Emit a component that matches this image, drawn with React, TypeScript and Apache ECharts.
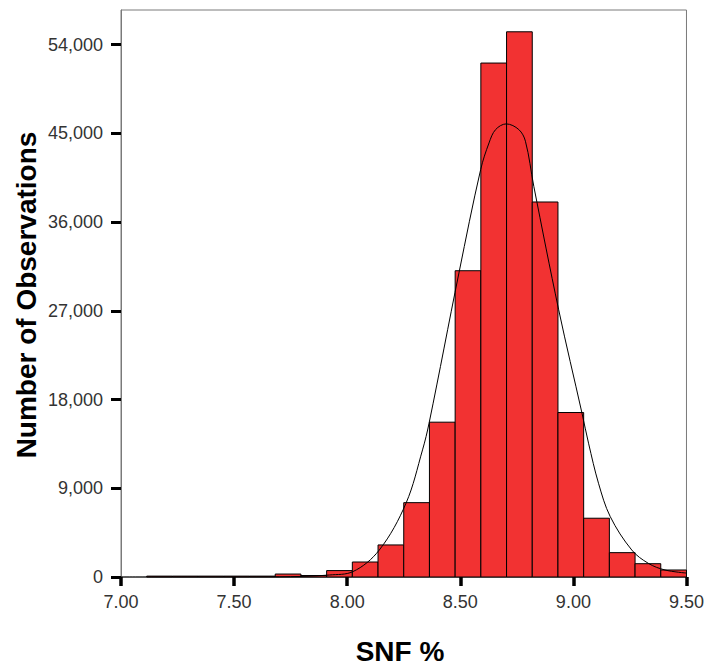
import React, { useEffect, useRef } from "react";
import * as echarts from "echarts";

// Histogram: 22 equal bins between HIST_MIN and HIST_MAX
const HIST_MIN = 7.0;
const HIST_MAX = 9.5;
const binCounts = [
  0, 90, 90, 90, 90, 90, 300, 150, 650, 1520, 3250, 7540, 15700, 31060, 52120,
  55290, 38030, 16680, 5960, 2470, 1350, 710,
];

// Fitted normal curve: [SNF %, observations]
const curveX = [
  7.0, 7.6, 7.8, 7.922, 8.0245, 8.142, 8.26, 8.333, 8.362, 8.494, 8.59, 8.627,
  8.656, 8.703, 8.759, 8.788, 8.825, 8.935, 9.038, 9.067, 9.111, 9.163, 9.258,
  9.331, 9.405, 9.5,
];
const curveY = [
  0, 10, 60, 203, 538, 2740, 7480, 12890, 15600, 30830, 41310, 44020, 45370,
  45950, 45370, 44190, 39620, 27100, 16620, 13570, 9510, 6120, 2740, 1390, 710,
  400,
];

const xTicks = [7.0, 7.5, 8.0, 8.5, 9.0, 9.5];
const yTicks = [0, 9000, 18000, 27000, 36000, 45000, 54000];
const Y_MAX = 57500;

const FONT = "'Liberation Sans', Arial, Helvetica, sans-serif";

export default function App() {
  const ref = useRef<HTMLDivElement>(null);

  useEffect(() => {
    if (!ref.current) return;
    const chart = echarts.init(ref.current, undefined, { renderer: "svg" });
    const w = (HIST_MAX - HIST_MIN) / binCounts.length;
    const histData = binCounts
      .map((c, k) => [HIST_MIN + k * w, HIST_MIN + (k + 1) * w, c])
      .filter((d) => d[2] > 0);
    const lineData = curveX.map((x, i) => [x, curveY[i]]);

    chart.setOption({
      animation: false,
      backgroundColor: "#ffffff",
      grid: {
        left: 121,
        right: 18.5,
        top: 10,
        bottom: 90,
        show: true,
        borderColor: "#7a7a7a",
        borderWidth: 1,
        backgroundColor: "transparent",
      },
      xAxis: {
        type: "value",
        min: HIST_MIN,
        max: HIST_MAX,
        interval: 0.5,
        splitLine: { show: false },
        axisLine: { show: true, lineStyle: { color: "#7a7a7a", width: 1 } },
        axisTick: {
          show: true,
          length: 9,
          lineStyle: { color: "#000", width: 3.5 },
          customValues: xTicks,
        },
        axisLabel: {
          customValues: xTicks,
          margin: 16,
          color: "#333",
          fontSize: 18,
          fontFamily: FONT,
          formatter: (v: number) => v.toFixed(2),
        },
      },
      yAxis: {
        type: "value",
        min: 0,
        max: Y_MAX,
        splitLine: { show: false },
        axisLine: { show: true, lineStyle: { color: "#7a7a7a", width: 1 } },
        axisTick: {
          show: true,
          length: 10,
          lineStyle: { color: "#000", width: 3 },
          customValues: yTicks,
        },
        axisLabel: {
          customValues: yTicks,
          margin: 18,
          color: "#333",
          fontSize: 18,
          fontFamily: FONT,
          formatter: (v: number) => v.toLocaleString("en-US"),
        },
      },
      series: [
        {
          type: "custom",
          data: histData,
          encode: { x: [0, 1], y: 2 },
          z: 2,
          renderItem: (params: any, api: any) => {
            const p0 = api.coord([api.value(0), api.value(2)]);
            const p1 = api.coord([api.value(1), 0]);
            return {
              type: "rect",
              shape: {
                x: p0[0],
                y: p0[1],
                width: p1[0] - p0[0],
                height: p1[1] - p0[1],
              },
              style: { fill: "#f23232", stroke: "#000", lineWidth: 1 },
            };
          },
        },
        {
          type: "line",
          data: lineData,
          smooth: 0.35,
          symbol: "none",
          z: 3,
          lineStyle: { color: "#000", width: 1 },
        },
      ],
      graphic: [
        {
          type: "text",
          x: 26,
          y: 295,
          rotation: Math.PI / 2,
          style: {
            text: "Number of Observations",
            font: `bold 28px ${FONT}`,
            fill: "#000",
            align: "center",
            verticalAlign: "middle",
          },
        },
        {
          type: "text",
          x: 400,
          y: 651,
          style: {
            text: "SNF %",
            font: `bold 28px ${FONT}`,
            fill: "#000",
            align: "center",
            verticalAlign: "middle",
          },
        },
      ],
    });

    return () => chart.dispose();
  }, []);

  return (
    <div
      ref={ref}
      style={{ position: "fixed", left: 0, top: 0, width: 707, height: 667 }}
    />
  );
}
